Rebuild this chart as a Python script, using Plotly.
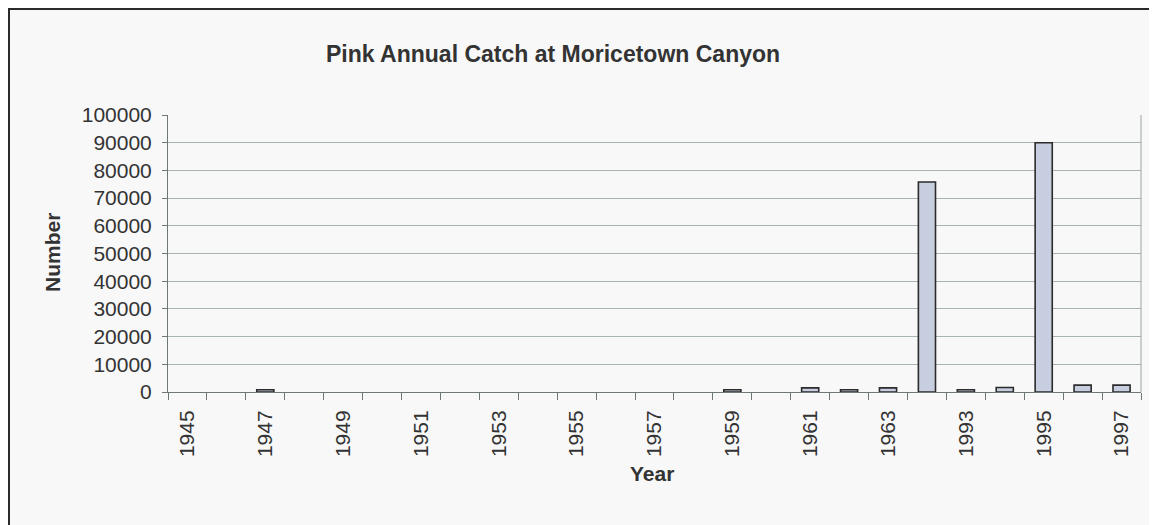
import plotly.graph_objects as go

years = ["1945", "1946", "1947", "1948", "1949", "1950", "1951", "1952", "1953",
         "1954", "1955", "1956", "1957", "1958", "1959", "1960", "1961", "1962",
         "1963", "1992", "1993", "1994", "1995", "1996", "1997"]
catch = [None, None, 800, None, None, None, None, None, None,
         None, None, None, None, None, 800, None, 1500, 800,
         1500, 75800, 800, 1600, 90000, 2500, 2500]
y_ticks = [0, 10000, 20000, 30000, 40000, 50000, 60000, 70000, 80000, 90000, 100000]

title_text = "Pink Annual Catch at Moricetown Canyon"
x_title = "Year"
y_title = "Number"

FONT = "Liberation Sans, Arial, sans-serif"
TXT = "#333333"

OFF = 8  # browser body margin
W, H = 1157 - OFF, 525 - OFF
# plot area in page pixels
L, R, T, B = 168, 1141, 115, 392


def px(x):
    return (x - L) / (R - L)


def py(y):
    return (B - y) / (B - T)


idx = list(range(len(years)))

fig = go.Figure()
fig.add_trace(go.Bar(
    x=idx, y=catch, width=0.44,
    marker=dict(color="#c6cee0", line=dict(color="#2b2b2b", width=1.6)),
))

fig.update_layout(
    width=W, height=H,
    margin=dict(l=L - OFF, r=W - (R - OFF), t=T - OFF, b=H - (B - OFF)),
    paper_bgcolor="#f8f8f8", plot_bgcolor="#f8f8f8",
    showlegend=False,
    font=dict(family=FONT, color=TXT, size=21),
    xaxis=dict(
        range=[-0.5, len(years) - 0.5],
        tickmode="array", tickvals=idx[::2], ticktext=years[::2],
        tickangle=-90, ticks="", showgrid=False, zeroline=False,
        showline=True, linecolor="#6f7777", linewidth=1,
        tickfont=dict(size=21, color=TXT, family=FONT),
        ticklabelstandoff=9,
        minor=dict(tickmode="array", tickvals=[i - 0.5 for i in range(len(years) + 1)],
                   ticks="outside", ticklen=7, tickcolor="#6f7777", showgrid=False),
    ),
    yaxis=dict(
        range=[0, 100000], tickmode="array", tickvals=y_ticks,
        ticktext=[str(v) for v in y_ticks],
        ticks="outside", ticklen=5, tickcolor="#6f7777",
        showgrid=True, gridcolor="#a9b3b0", gridwidth=1,
        zeroline=False, showline=True, linecolor="#6f7777", linewidth=1,
        tickfont=dict(size=21, color=TXT, family=FONT),
        ticklabelstandoff=6,
    ),
    shapes=[
        dict(type="line", xref="paper", yref="paper", x0=1, x1=1, y0=0, y1=1,
             line=dict(color="#9aa3a3", width=1)),
        dict(type="rect", xref="paper", yref="paper",
             x0=px(9), x1=px(1170), y0=py(540), y1=py(9),
             line=dict(color="#2a2a2a", width=2)),
    ],
    annotations=[
        dict(text="<b>%s</b>" % title_text, xref="paper", yref="paper",
             x=px(553), y=py(54), xanchor="center", yanchor="middle",
             showarrow=False, font=dict(size=23, color=TXT, family=FONT)),
        dict(text="<b>%s</b>" % x_title, xref="paper", yref="paper",
             x=px(652), y=py(473), xanchor="center", yanchor="middle",
             showarrow=False, font=dict(size=21, color=TXT, family=FONT)),
        dict(text="<b>%s</b>" % y_title, xref="paper", yref="paper",
             x=px(52), y=py(253), xanchor="center", yanchor="middle",
             textangle=-90, showarrow=False, font=dict(size=21, color=TXT, family=FONT)),
    ],
)

fig.write_html("out.html")
